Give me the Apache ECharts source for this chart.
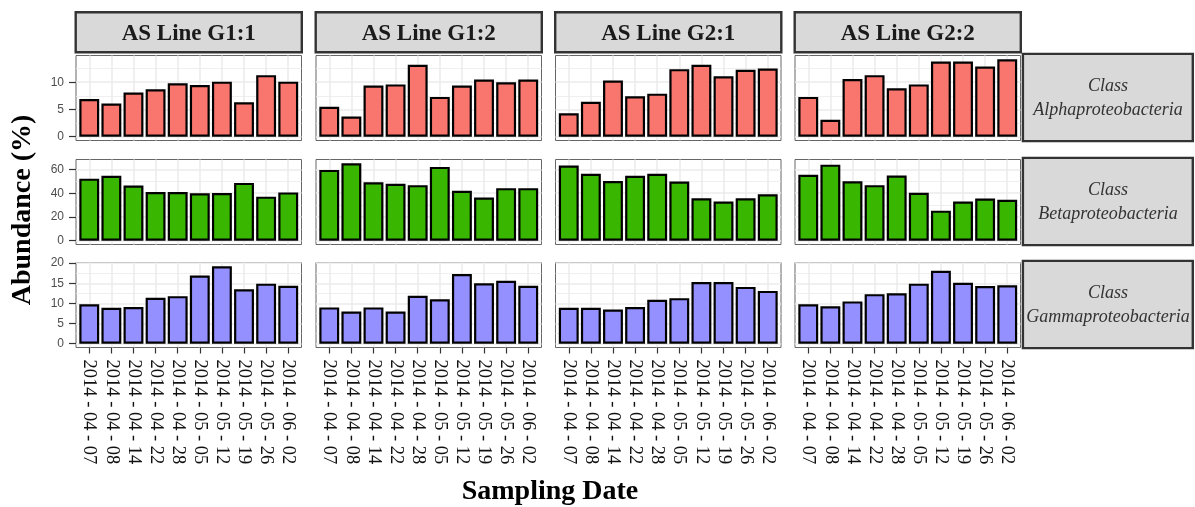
<!DOCTYPE html>
<html>
<head>
<meta charset="utf-8">
<script src="https://cdn.jsdelivr.net/npm/echarts@6/dist/echarts.min.js"></script>
<style>
  html, body { margin: 0; padding: 0; background: #ffffff; }
  #chart { width: 1195px; height: 507px; }
</style>
</head>
<body>
<div id="chart"></div>
<script>
// Sampling dates (x categories)
const dates = ['2014 - 04 - 07', '2014 - 04 - 08', '2014 - 04 - 14', '2014 - 04 - 22', '2014 - 04 - 28',
               '2014 - 05 - 05', '2014 - 05 - 12', '2014 - 05 - 19', '2014 - 05 - 26', '2014 - 06 - 02'];

// Facet labels
const lineNames = ['AS Line G1:1', 'AS Line G1:2', 'AS Line G2:1', 'AS Line G2:2'];
const classNames = ['Alphaproteobacteria', 'Betaproteobacteria', 'Gammaproteobacteria'];

// Relative abundance (%) per class and line
const alphaG11 = [6.9, 6.1, 8.1, 8.7, 9.8, 9.5, 10.1, 6.3, 11.3, 10.1];
const alphaG12 = [5.5, 3.7, 9.4, 9.6, 13.2, 7.3, 9.4, 10.5, 10.0, 10.5];
const alphaG21 = [4.3, 6.4, 10.3, 7.4, 7.9, 12.4, 13.2, 11.1, 12.3, 12.5];
const alphaG22 = [7.3, 3.1, 10.6, 11.3, 8.9, 9.6, 13.8, 13.8, 12.9, 14.2];

const betaG11 = [52.3, 54.7, 46.5, 41.0, 41.0, 39.9, 40.2, 48.7, 37.1, 40.7];
const betaG12 = [59.7, 65.2, 49.2, 47.9, 46.8, 62.2, 42.1, 36.3, 44.3, 44.3];
const betaG21 = [63.3, 56.4, 50.3, 54.7, 56.4, 49.8, 35.8, 33.0, 35.8, 39.1];
const betaG22 = [55.6, 64.1, 50.1, 46.8, 55.0, 40.4, 25.3, 33.0, 35.5, 34.4];

const gammaG11 = [9.8, 8.9, 9.1, 11.4, 11.8, 16.9, 19.2, 13.5, 14.9, 14.4];
const gammaG12 = [9.0, 8.0, 9.0, 8.0, 11.9, 11.0, 17.3, 15.0, 15.6, 14.4];
const gammaG21 = [8.9, 8.9, 8.5, 9.1, 10.9, 11.3, 15.3, 15.3, 14.1, 13.1];
const gammaG22 = [9.8, 9.3, 10.5, 12.3, 12.5, 14.9, 18.1, 15.1, 14.3, 14.5];

// Y axis ticks (labelled) and minor grid lines per class row
const alphaTicks = [0, 5, 10];
const betaTicks = [0, 20, 40, 60];
const gammaTicks = [0, 5, 10, 15, 20];
const alphaMinor = [2.5, 7.5, 12.5];
const betaMinor = [10, 30, 50];
const gammaMinor = [2.5, 7.5, 12.5, 17.5];

const rows = [
  { data: [alphaG11, alphaG12, alphaG21, alphaG22], ticks: alphaTicks, minor: alphaMinor, color: '#F8766D' },
  { data: [betaG11, betaG12, betaG21, betaG22], ticks: betaTicks, minor: betaMinor, color: '#39B600' },
  { data: [gammaG11, gammaG12, gammaG21, gammaG22], ticks: gammaTicks, minor: gammaMinor, color: '#9590FF' }
];

// Panel layout
const colLeft = [76, 316, 555.5, 795];
const panelW = 225.5;
const rowTop = [55.5, 159.5, 262.5];
const panelH = 85;
const catIdx = dates.map((d, i) => i);

const SERIF = '"Liberation Serif", "Times New Roman", serif';
const SANS = '"Liberation Sans", Arial, sans-serif';
const GRID_MAJOR = { color: '#EBEBEB', width: 1.5 };
const GRID_MINOR = { color: '#EBEBEB', width: 0.8 };

const grids = [], xAxes = [], yAxes = [], series = [], graphics = [];

rows.forEach((row, r) => {
  // shared y scale per row, padded 5% like the facet scale
  const top = Math.max(...row.data.flat());
  const lo = -0.05 * top, hi = 1.05 * top;
  row.data.forEach((vals, c) => {
    const g = grids.length;
    grids.push({
      left: colLeft[c], top: rowTop[r], width: panelW, height: panelH,
      show: true, backgroundColor: '#ffffff', borderColor: '#666666', borderWidth: 1
    });
    const bottomRow = r === rows.length - 1;
    xAxes.push({
      gridIndex: g, type: 'value', min: -0.6, max: 9.6,
      axisLine: { show: false, onZero: false },
      axisTick: { show: bottomRow, customValues: catIdx, length: 6, lineStyle: { color: '#333333', width: 1.2 } },
      axisLabel: {
        show: bottomRow, customValues: catIdx, rotate: -90, margin: 12,
        formatter: v => dates[Math.round(v)],
        fontFamily: SERIF, fontSize: 18.5, color: '#111111'
      },
      splitLine: { show: true, lineStyle: GRID_MAJOR }
    });
    const firstCol = c === 0;
    yAxes.push({
      gridIndex: g, type: 'value', min: lo, max: hi, position: 'left',
      axisLine: { show: false, onZero: false },
      axisTick: { show: firstCol, customValues: row.ticks, length: 7, lineStyle: { color: '#333333', width: 1.2 } },
      axisLabel: { show: firstCol, customValues: row.ticks, margin: 12, fontFamily: SANS, fontSize: 12, color: '#4D4D4D' },
      splitLine: { show: true, lineStyle: GRID_MAJOR }
    });
    yAxes.push({
      gridIndex: g, type: 'value', min: lo, max: hi, position: 'right',
      axisLine: { show: false, onZero: false },
      axisTick: { show: false, customValues: row.minor },
      axisLabel: { show: false },
      splitLine: { show: true, lineStyle: GRID_MINOR }
    });
    series.push({
      type: 'bar', xAxisIndex: g, yAxisIndex: yAxes.length - 2,
      data: vals.map((v, i) => [i, v]),
      barWidth: '90%',
      itemStyle: { color: row.color, borderColor: '#000000', borderWidth: 2.2 },
      silent: true
    });
  });
});

// Column strips (top)
lineNames.forEach((name, c) => {
  graphics.push({
    type: 'rect', shape: { x: colLeft[c] - 0.3, y: 12.2, width: panelW + 0.6, height: 40 },
    style: { fill: '#D9D9D9', stroke: '#333333', lineWidth: 2.4 }, z: 10
  });
  graphics.push({
    type: 'text', x: colLeft[c] + panelW / 2, y: 34,
    style: { text: name, font: 'bold 23px ' + SERIF, fill: '#1a1a1a', align: 'center', verticalAlign: 'middle' }, z: 11
  });
});

// Row strips (right)
classNames.forEach((name, r) => {
  graphics.push({
    type: 'rect', shape: { x: 1022.9, y: rowTop[r] - 1.6, width: 169.9, height: panelH + 2.2 },
    style: { fill: '#D9D9D9', stroke: '#333333', lineWidth: 2.4 }, z: 10
  });
  graphics.push({
    type: 'text', x: 1108, y: rowTop[r] + panelH / 2,
    style: { text: 'Class\n' + name, font: 'italic 18px ' + SERIF, lineHeight: 24, fill: '#333333', align: 'center', verticalAlign: 'middle' }, z: 11
  });
});

// Axis titles
graphics.push({
  type: 'text', x: 23, y: 210, rotation: Math.PI / 2,
  style: { text: 'Abundance (%)', font: 'bold 28px ' + SERIF, fill: '#000000', align: 'center', verticalAlign: 'middle' }
});
graphics.push({
  type: 'text', x: 550, y: 492,
  style: { text: 'Sampling Date', font: 'bold 28px ' + SERIF, fill: '#000000', align: 'center', verticalAlign: 'middle' }
});

const chart = echarts.init(document.getElementById('chart'), null, { renderer: 'canvas' });
chart.setOption({
  animation: false,
  backgroundColor: '#ffffff',
  grid: grids,
  xAxis: xAxes,
  yAxis: yAxes,
  series: series,
  graphic: graphics
});
</script>
</body>
</html>
